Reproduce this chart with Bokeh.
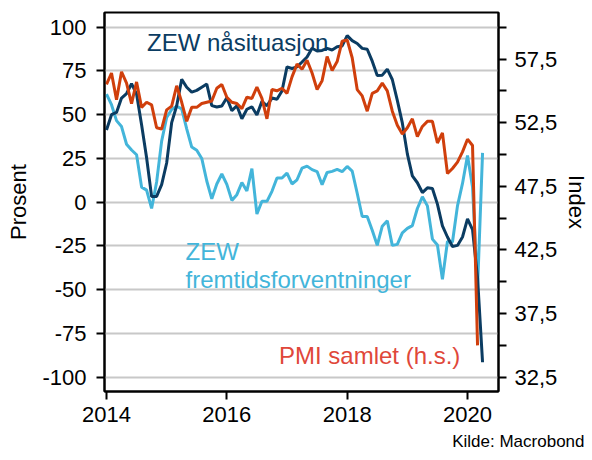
from bokeh.plotting import figure
from bokeh.models import Range1d, LinearAxis, FixedTicker, Label, Title
from bokeh.embed import file_html
from bokeh.resources import INLINE

# ---- data (monthly, from Jan 2014) ----
zew_now = [41.2, 50.0, 51.3, 59.5, 62.1, 67.7, 61.8, 44.3, 25.4, 3.2, 3.3, 10.0,
           22.4, 45.5, 55.1, 70.2, 65.7, 62.9, 63.9, 65.7, 67.5, 55.2, 54.4, 55.0,
           59.7, 52.3, 55.1, 47.7, 53.1, 54.5, 49.8, 57.6, 55.1, 59.5, 58.8, 63.5,
           77.3, 76.4, 77.3, 80.1, 83.0, 88.0, 86.4, 86.7, 87.9, 87.0, 88.8, 89.3,
           95.2, 92.3, 90.7, 87.9, 87.4, 80.6, 72.4, 72.6, 76.0, 70.1, 58.2, 45.3,
           27.6, 15.0, 11.1, 5.5, 8.2, 7.8, -1.1, -13.5, -19.9, -25.3, -24.7, -19.9,
           -9.5, -15.7, -43.1, -91.5]
zew_exp = [61.7, 55.7, 46.6, 43.2, 33.1, 29.8, 27.1, 8.6, 6.9, -3.6, 11.5, 34.9,
           48.4, 53.0, 54.8, 53.3, 41.9, 31.5, 29.7, 25.0, 12.1, 1.9, 10.4, 16.1,
           10.2, 1.0, 4.3, 11.2, 6.4, 19.2, -6.8, 0.5, 0.5, 6.2, 13.8, 13.8,
           16.6, 10.4, 12.8, 19.5, 20.6, 18.6, 17.5, 10.0, 17.0, 17.6, 18.7, 17.4,
           20.4, 17.8, 5.1, -8.2, -8.2, -16.1, -24.7, -13.7, -10.6, -24.7, -24.1, -17.5,
           -15.0, -13.4, -3.6, 3.1, -2.1, -21.1, -24.5, -44.1, -22.5, -22.8, -2.1, 10.7,
           26.7, 8.7, -49.5, 28.2]
pmi = [55.5, 56.4, 54.3, 56.5, 55.6, 54.0, 55.7, 53.7, 54.1, 53.9, 52.1, 52.0,
       53.5, 53.8, 55.4, 54.1, 52.6, 53.7, 53.7, 54.0, 54.1, 54.2, 55.2, 55.5,
       54.5, 54.1, 54.0, 53.6, 54.5, 54.4, 55.3, 54.4, 52.8, 55.1, 55.0, 55.2,
       54.8, 56.1, 57.1, 56.7, 57.4, 56.4, 55.1, 55.8, 57.7, 56.6, 57.3, 58.9,
       59.0, 57.6, 55.1, 54.6, 53.4, 54.8, 55.0, 55.6, 55.0, 53.4, 52.3, 51.6,
       52.1, 52.8, 51.4, 52.2, 52.6, 52.6, 50.9, 51.7, 48.5, 48.9, 49.4, 50.2,
       51.2, 50.7, 35.0]
start_year = 2014

left_ticks = [-100, -75, -50, -25, 0, 25, 50, 75, 100]
left_labels = ["-100", "-75", "-50", "-25", "0", "25", "50", "75", "100"]
right_ticks = [32.5, 37.5, 42.5, 47.5, 52.5, 57.5]
right_minor = [35, 40, 45, 50, 55, 60]
right_labels = ["32,5", "37,5", "42,5", "47,5", "52,5", "57,5"]
x_ticks = [2014, 2016, 2018, 2020]

x_now = [start_year + i / 12 for i in range(len(zew_now))]
x_exp = [start_year + i / 12 for i in range(len(zew_exp))]
x_pmi = [start_year + i / 12 for i in range(len(pmi))]

DARK = "#0b3c62"
LIGHT = "#43b5da"
RED = "#d03f0c"
RED_TXT = "#e0473a"
FONT = "Liberation Sans"

y0, y1 = -108.2, 108.4
def to_right(v):
    return 46.25 + v * 0.1375

p = figure(width=592, height=460, output_backend="svg", toolbar_location=None,
           x_range=Range1d(2013.967, 2020.515), y_range=Range1d(y0, y1),
           min_border_left=104, min_border_right=90, min_border_top=12, min_border_bottom=69)
p.extra_y_ranges = {"pmi": Range1d(to_right(y0), to_right(y1))}

p.background_fill_color = "white"
p.border_fill_color = "white"
p.outline_line_color = "black"
p.outline_line_width = 2
p.outline_line_alpha = 1

p.xgrid.visible = False
p.ygrid.ticker = FixedTicker(ticks=left_ticks)
p.ygrid.grid_line_color = "#c8c8c8"
p.ygrid.grid_line_width = 2

def style_axis(ax):
    ax.axis_line_color = "black"
    ax.axis_line_width = 2
    ax.major_tick_line_color = "black"
    ax.major_tick_line_width = 2
    ax.major_tick_out = 8
    ax.major_tick_in = 0
    ax.minor_tick_line_color = None
    ax.major_label_text_font = FONT
    ax.major_label_text_font_size = "22px"
    ax.major_label_text_color = "black"
    ax.axis_label_text_font = FONT
    ax.axis_label_text_font_size = "22px"
    ax.axis_label_text_font_style = "normal"
    ax.axis_label_text_color = "black"

yl = p.yaxis[0]
yl.ticker = FixedTicker(ticks=left_ticks)
yl.major_label_overrides = {t: l for t, l in zip(left_ticks, left_labels)}
yl.axis_label = "Prosent"
style_axis(yl)
yl.major_label_standoff = 10
yl.axis_label_standoff = 8

xa = p.xaxis[0]
xa.ticker = FixedTicker(ticks=x_ticks)
style_axis(xa)
xa.major_label_standoff = 7

yr = LinearAxis(y_range_name="pmi", ticker=FixedTicker(ticks=right_ticks, minor_ticks=right_minor),
                major_label_overrides={t: l for t, l in zip(right_ticks, right_labels)},
                axis_label="Index")
style_axis(yr)
yr.minor_tick_line_color = "black"
yr.minor_tick_line_width = 2
yr.minor_tick_out = 8
yr.minor_tick_in = 0
yr.major_label_standoff = 8
yr.axis_label_standoff = 4
p.add_layout(yr, "right")

p.line(x_exp, zew_exp, line_color=LIGHT, line_width=3)
p.line(x_now, zew_now, line_color=DARK, line_width=3)
p.line(x_pmi, pmi, line_color=RED, line_width=3, y_range_name="pmi")

def lab(x, y, text, color, size="24px"):
    p.add_layout(Label(x=x, y=y, text=text, text_color=color, text_font=FONT,
                       text_font_size=size, text_baseline="alphabetic", text_align="left"))

lab(2014.673, 91.4, "ZEW nåsituasjon", DARK)
lab(2015.313, -28.0, "ZEW", LIGHT)
lab(2015.313, -44.2, "fremtidsforventninger", LIGHT)
lab(2016.867, -87.6, "PMI samlet (h.s.)", RED_TXT)

src = Title(text="Kilde: Macrobond", align="right", text_font=FONT, text_font_size="17px",
            text_font_style="normal", text_color="black", standoff=10, offset=-86)
p.add_layout(src, "below")

open("out.html", "w").write(file_html(p, INLINE))
